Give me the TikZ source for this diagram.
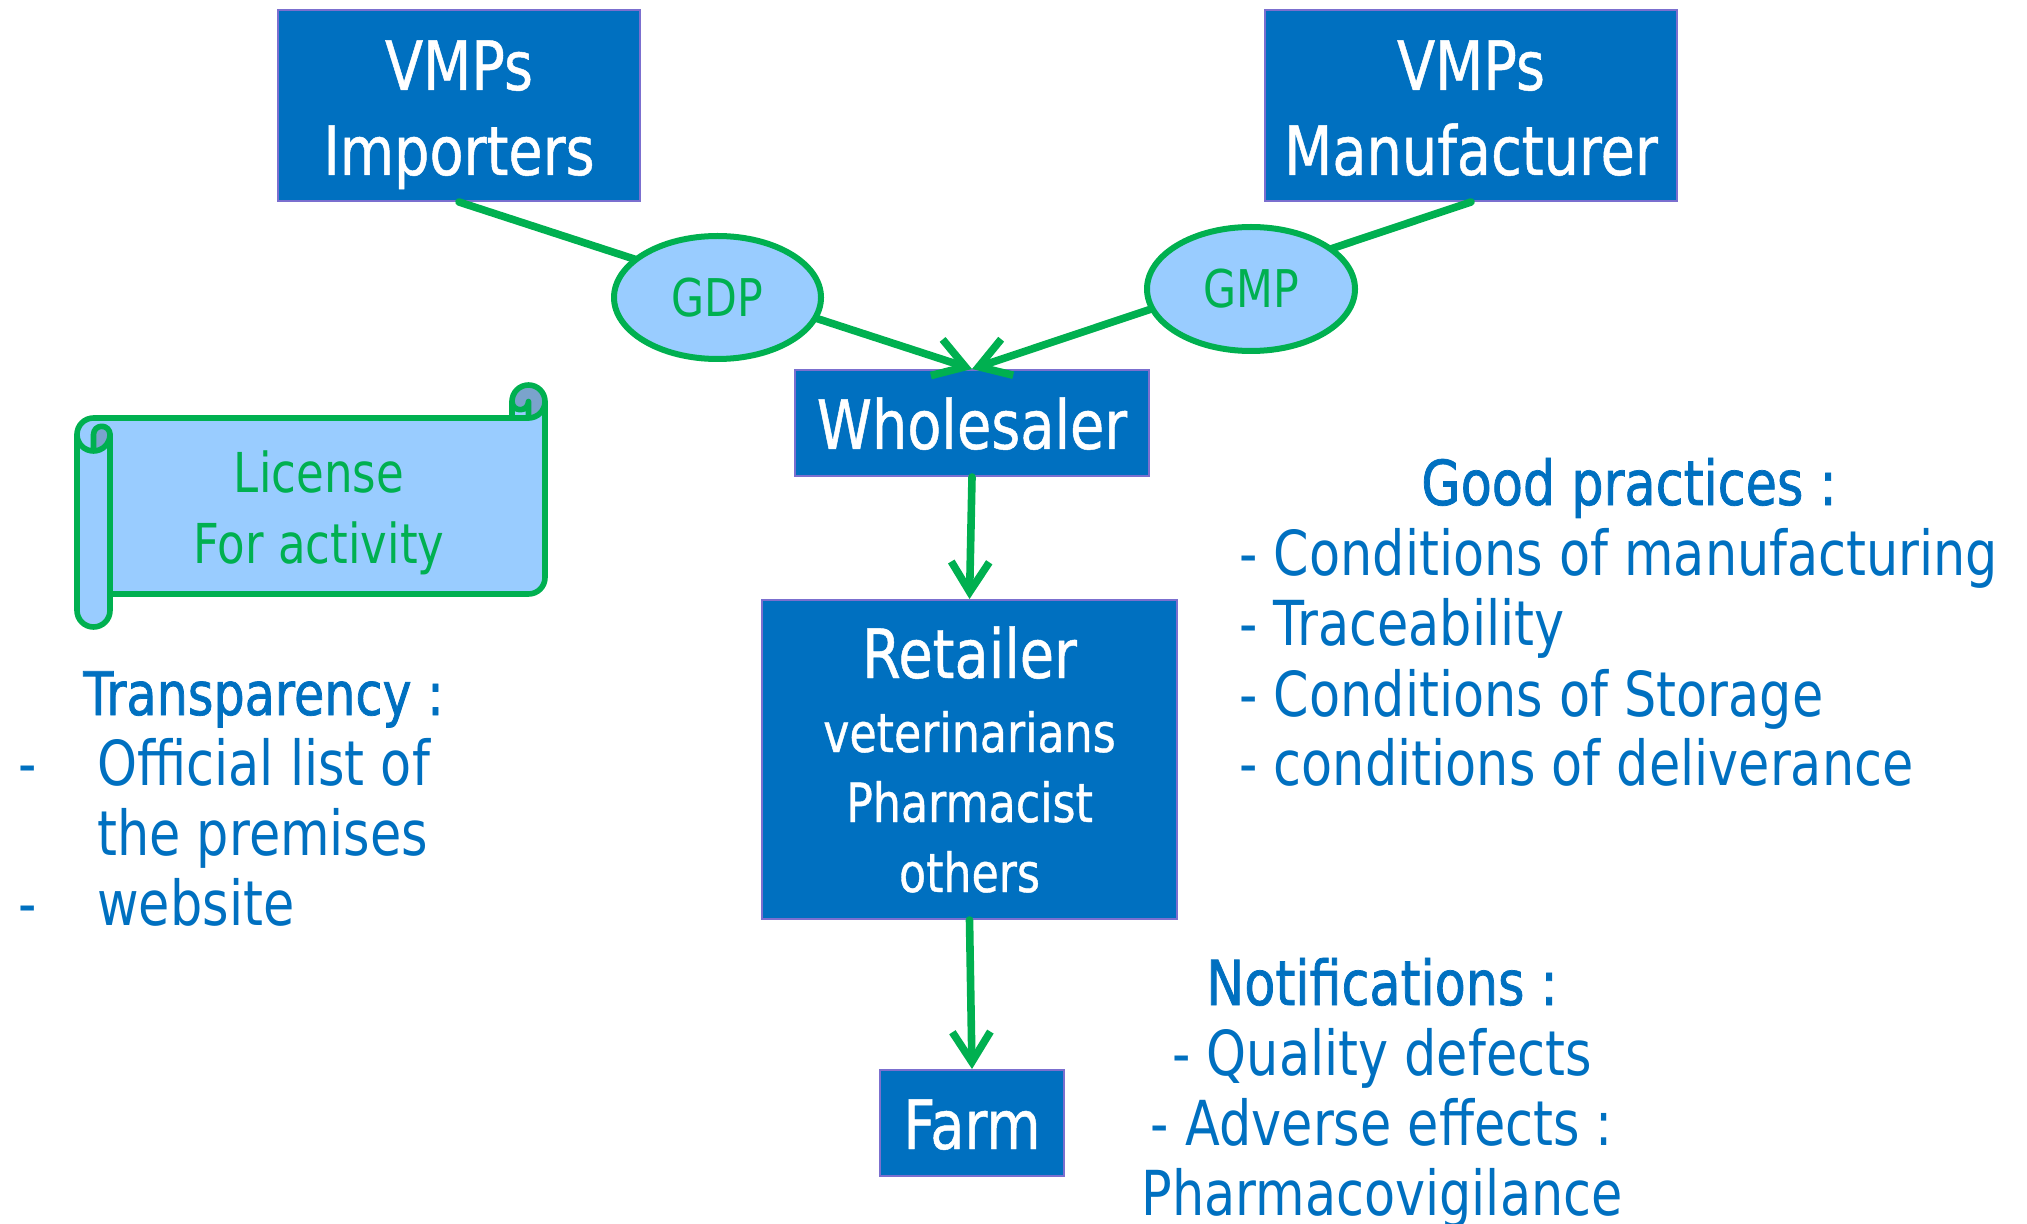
\documentclass[tikz,border=0pt]{standalone}
\usepackage{fontspec}
\setmainfont{DejaVu Sans}[FakeStretch=0.82]
\newfontfamily\headfont{DejaVu Sans}[FakeStretch=0.82,FakeBold=1.2]
\newfontfamily\boxfont{DejaVu Sans}[FakeStretch=0.82,FakeBold=0.7]
\usetikzlibrary{arrows.meta,shapes.geometric}
\definecolor{boxblue}{HTML}{0070C0}
\definecolor{boxedge}{HTML}{7B6FCF}
\definecolor{flowgreen}{HTML}{00B050}
\definecolor{lightblue}{HTML}{99CCFF}
\definecolor{scrolldark}{HTML}{7AA3CC}
\definecolor{txtblue}{HTML}{0070C0}
\tikzset{
  box/.style={draw=boxedge, line width=1pt, fill=boxblue, inner sep=0pt},
  boxtxt/.style={text=white, font=\boxfont\fontsize{34pt}{40pt}\selectfont, anchor=base, inner sep=0pt},
  subtxt/.style={text=white, font=\boxfont\fontsize{27pt}{33pt}\selectfont, anchor=base, inner sep=0pt},
  bodytxt/.style={text=txtblue, font=\fontsize{31pt}{37pt}\selectfont, inner sep=0pt},
  headtxt/.style={text=txtblue, font=\headfont\fontsize{31pt}{37pt}\selectfont, inner sep=0pt},
  lictxt/.style={text=flowgreen, font=\fontsize{27.5pt}{33pt}\selectfont, anchor=base, inner sep=0pt},
  flow/.style={draw=flowgreen, line width=3.8pt, line cap=round, line join=round,
    -{Straight Barb[length=15pt,width=19pt]}},
  oval/.style={ellipse, draw=flowgreen, line width=3pt, fill=lightblue, inner sep=0pt,
    minimum width=103.5pt, minimum height=61.5pt, text=flowgreen, font=\fontsize{26pt}{30pt}\selectfont},
  scrollline/.style={draw=flowgreen, line width=2.8pt, line join=round, line cap=round},
}
\begin{document}
\begin{tikzpicture}[x=0.5pt,y=-0.5pt]
\useasboundingbox (0,0) rectangle (2027,1224);

% boxes
\node[box, minimum width=181pt, minimum height=95.5pt] (imp) at (459,105.5) {};
\node[box, minimum width=206pt, minimum height=95.5pt] (man) at (1471,105.5) {};
\node[box, minimum width=177pt, minimum height=53pt] (whole) at (972,423) {};
\node[box, minimum width=207.5pt, minimum height=159.5pt] (ret) at (969.5,759.5) {};
\node[box, minimum width=92pt, minimum height=53pt] (farm) at (972,1123) {};

\node[boxtxt] (imp1) at (459,90) {VMPs};
\node[boxtxt] (imp2) at (459,175) {Importers};
\node[boxtxt] (man1) at (1471,90) {VMPs};
\node[boxtxt] (man2) at (1471,175) {Manufacturer};
\node[boxtxt] (whole1) at (972,449) {Wholesaler};
\node[boxtxt] (ret1) at (969.5,678) {Retailer};
\node[subtxt] (ret2) at (969.5,752) {veterinarians};
\node[subtxt] (ret3) at (969.5,822) {Pharmacist};
\node[subtxt] (ret4) at (969.5,892) {others};
\node[boxtxt] (farm1) at (972,1149) {Farm};

% connectors
\draw[flow] (imp.south) -- (whole.north);
\draw[flow] (man.south) -- (whole.north);
\draw[flow] (whole.south) -- (ret.north);
\draw[flow] (ret.south) -- (farm.north);

% ellipses on top of the lines
\node[oval] (gdp) at (717.5,297.5) {GDP};
\node[oval, minimum width=104pt, minimum height=62pt] (gmp) at (1251,289) {GMP};

% scroll
\fill[lightblue] (77,434.5) arc[start angle=180, delta angle=90, radius=16.5] -- (512,418) -- (512,401.5)
  arc[start angle=180, delta angle=180, radius=16.5] -- (545,577.5)
  arc[start angle=0, delta angle=90, radius=16.5] -- (110,594) -- (110,610.5)
  arc[start angle=0, delta angle=180, radius=16.5] -- cycle;
\fill[lightblue] (528.5,401.5) circle[radius=16.5];
\fill[scrolldark] (93.5,451) arc[start angle=90, delta angle=-90, radius=16.5]
  arc[start angle=0, delta angle=-180, radius=8.25] -- cycle;
\fill[scrolldark] (528.5,418) arc[start angle=90, delta angle=-270, radius=16.5]
  arc[start angle=180, delta angle=-180, radius=8.25] -- cycle;
\draw[scrollline] (77,434.5) arc[start angle=180, delta angle=90, radius=16.5] -- (512,418) -- (512,401.5)
  arc[start angle=180, delta angle=180, radius=16.5] -- (545,577.5)
  arc[start angle=0, delta angle=90, radius=16.5] -- (110,594) -- (110,610.5)
  arc[start angle=0, delta angle=180, radius=16.5] -- cycle;
\draw[scrollline] (512,418) -- (528.5,418) arc[start angle=90, delta angle=-90, radius=16.5];
\draw[scrollline] (528.5,418) -- (528.5,401.5) arc[start angle=0, delta angle=180, radius=8.25];
\draw[scrollline] (93.5,451) -- (93.5,434.5) arc[start angle=180, delta angle=180, radius=8.25]
  arc[start angle=0, delta angle=180, radius=16.5];
\draw[scrollline] (110,434.5) -- (110,594);
\node[lictxt] (lic1) at (319,493) {License};
\node[lictxt] (lic2) at (319,563) {For activity};

% transparency
\node[headtxt, anchor=base west, font=\headfont\fontsize{30pt}{36pt}\selectfont] (tr0) at (83,715) {Transparency :};
\node[bodytxt, anchor=base west] (trd1) at (18,785) {-};
\node[bodytxt, anchor=base west] (tr1) at (97,785) {Official list of};
\node[bodytxt, anchor=base west] (tr2) at (97,855) {the premises};
\node[bodytxt, anchor=base west] (trd2) at (18,925) {-};
\node[bodytxt, anchor=base west] (tr3) at (97,925) {website};

% good practices
\node[headtxt, anchor=base] (gp0) at (1629,505) {Good practices :};
\node[bodytxt, anchor=base west] (gp1) at (1239,575) {- Conditions of manufacturing};
\node[bodytxt, anchor=base west] (gp2) at (1239,645) {- Traceability};
\node[bodytxt, anchor=base west] (gp3) at (1239,716) {- Conditions of Storage};
\node[bodytxt, anchor=base west] (gp4) at (1239,785) {- conditions of deliverance};

% notifications
\node[headtxt, anchor=base] (nt0) at (1382,1005) {Notifications :};
\node[bodytxt, anchor=base] (nt1) at (1382,1075) {- Quality defects};
\node[bodytxt, anchor=base] (nt2) at (1382,1145) {- Adverse effects :};
\node[bodytxt, anchor=base] (nt3) at (1382,1215) {Pharmacovigilance};
\end{tikzpicture}
\end{document}
